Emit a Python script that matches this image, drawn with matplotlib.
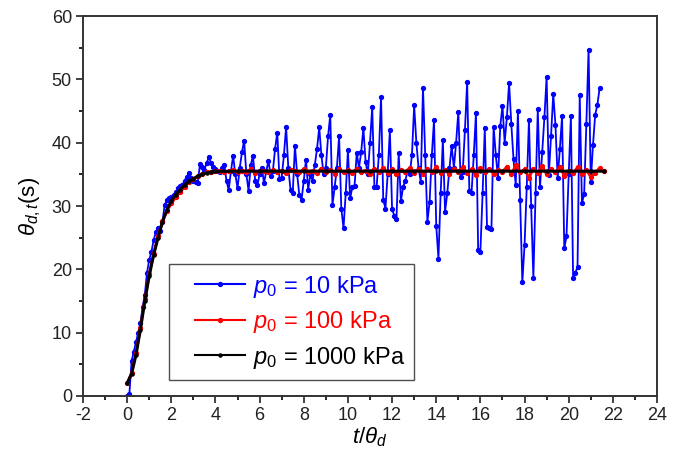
import numpy as np
import matplotlib
matplotlib.use("Agg")
import matplotlib.pyplot as plt
from matplotlib.legend_handler import HandlerLine2D
from matplotlib.ticker import MultipleLocator

plt.rcParams['font.family'] = ['Liberation Sans', 'DejaVu Sans']
plt.rcParams['mathtext.fontset'] = 'custom'
plt.rcParams['mathtext.rm'] = 'Liberation Sans'
plt.rcParams['mathtext.it'] = 'Liberation Sans:italic'
plt.rcParams['mathtext.bf'] = 'Liberation Sans:bold'
plt.rcParams['axes.unicode_minus'] = False

# ---- data ----
labels = [r"$p_0$ = 10 kPa", r"$p_0$ = 100 kPa", r"$p_0$ = 1000 kPa"]
colors = ["#0000ff", "#ff0000", "#000000"]

blue_step = 0.1
blue_v = [0.0, 0.3, 5.5, 7.0, 8.5, 10.0, 11.5, 14.0, 16.0, 19.5,
          21.5, 22.8, 24.6, 25.9, 26.5, 26.0, 27.5, 30.2, 30.9, 31.2,
          31.4, 31.7, 32.2, 32.8, 33.1, 33.3, 34.0, 34.6, 35.2, 34.5,
          33.9, 33.8, 33.7, 36.7, 36.2, 35.7, 36.8, 37.7, 36.8, 36.2,
          35.9, 35.6, 35.3, 36.0, 36.5, 34.0, 32.5, 35.5, 37.9, 35.0,
          32.8, 36.0, 38.5, 40.3, 35.0, 32.4, 36.5, 37.9, 34.0, 33.3,
          35.0, 36.0, 33.6, 35.5, 37.1, 34.8, 35.5, 39.0, 41.6, 34.2,
          34.5, 38.0, 42.5, 36.0, 32.6, 32.0, 39.5, 35.0, 31.7, 31.0,
          34.0, 37.3, 32.6, 35.0, 34.0, 36.5, 39.0, 42.4, 38.0, 35.0,
          36.0, 41.0, 44.4, 30.2, 33.0, 36.0, 41.0, 29.6, 26.5, 32.0,
          38.8, 31.2, 33.0, 33.2, 38.4, 36.0, 38.5, 42.3, 37.0, 35.0,
          40.0, 45.6, 33.0, 33.0, 38.0, 47.2, 31.0, 29.6, 35.0, 42.0,
          29.5, 28.5, 28.0, 38.3, 30.8, 33.0, 34.0, 35.5, 35.0, 38.0,
          45.9, 40.0, 36.0, 33.8, 48.7, 38.0, 27.5, 30.7, 38.0, 43.6,
          26.9, 21.7, 32.0, 40.4, 29.1, 32.0, 36.0, 39.5, 36.0, 40.0,
          44.9, 34.6, 35.3, 42.0, 49.6, 32.3, 32.1, 38.0, 44.7, 23.0,
          22.8, 32.0, 42.3, 26.7, 26.5, 26.3, 42.5, 38.0, 34.4, 42.6,
          45.8, 40.0, 44.0, 49.4, 43.0, 37.4, 33.3, 45.0, 31.0, 18.0,
          23.8, 33.0, 43.6, 30.0, 18.6, 32.0, 45.3, 33.0, 38.6, 44.0,
          50.4, 34.9, 41.0, 47.7, 42.8, 34.4, 39.0, 44.2, 23.3, 25.2,
          35.0, 44.2, 18.6, 19.5, 20.3, 47.5, 30.4, 31.9, 43.0, 54.7,
          33.8, 39.6, 44.4, 46.0, 48.6]

red_step = 0.2
red_v = [2.0, 3.6, 6.8, 10.8, 15.3, 19.2, 22.5, 25.3, 27.6, 29.2,
         30.4, 31.4, 32.2, 33.0, 33.8, 34.3, 34.7, 35.0, 35.3, 35.4,
         35.5, 35.6, 35.4, 35.5, 35.7, 35.3, 35.6, 35.4, 35.8, 35.2,
         35.6, 35.5, 35.3, 35.7, 35.4, 35.6, 35.2, 35.7, 35.5, 35.3,
         35.8, 35.4, 35.6, 35.2, 35.9, 35.4, 35.7, 35.1, 35.8, 35.3,
         35.7, 35.2, 35.9, 35.4, 35.6, 35.0, 35.9, 35.3, 36.0, 35.2,
         35.8, 35.1, 35.7, 35.4, 36.0, 35.2, 35.9, 35.0, 35.8, 35.3,
         36.1, 35.2, 35.7, 35.0, 35.9, 35.4, 36.1, 35.2, 35.8, 34.9,
         36.0, 35.3, 35.9, 35.1, 35.7, 35.4, 36.2, 35.0, 36.4, 35.3,
         35.8, 34.5, 35.9, 35.2, 36.3, 35.0, 35.8, 35.3, 36.2, 34.8,
         35.6, 35.2, 36.1, 35.0, 35.7, 34.6, 35.2, 36.0, 35.5]

black_t = [0.0, 0.2, 0.4, 0.6, 0.8, 1.0, 1.2, 1.4, 1.6, 1.8, 2.0,
           2.2, 2.4, 2.6, 2.8, 3.0, 3.2, 3.4, 3.6, 3.8, 4.0,
           5, 6, 7, 8, 9, 10, 11, 12, 13, 14, 15, 16, 17, 18, 19, 20, 21, 21.6]
black_v = [2.0, 3.5, 6.5, 10.5, 15.0, 19.0, 22.3, 25.0, 27.5, 29.4, 30.8,
           31.8, 32.6, 33.3, 33.9, 34.3, 34.7, 35.0, 35.2, 35.35, 35.45,
           35.5, 35.5, 35.5, 35.5, 35.5, 35.5, 35.5, 35.5, 35.5, 35.5,
           35.5, 35.5, 35.5, 35.5, 35.5, 35.5, 35.5, 35.5]

x_ticks = list(range(-2, 25, 2))
y_ticks = list(range(0, 61, 10))

blue_t = np.arange(len(blue_v)) * blue_step
red_t = np.arange(len(red_v)) * red_step

# ---- figure ----
fig = plt.figure(figsize=(6.76, 4.61), dpi=100)
ax = fig.add_axes([83/676, 1-396/461, 574/676, 380/461])

lb, = ax.plot(blue_t, blue_v, color=colors[0], lw=1.3, marker='o', ms=2.8,
              label=labels[0], zorder=2)
lr, = ax.plot(red_t, red_v, color=colors[1], lw=2.0, marker='o', ms=2.8,
              label=labels[1], zorder=3)
lk, = ax.plot(black_t, black_v, color=colors[2], lw=2.2, marker='o', ms=2.2,
              label=labels[2], zorder=4)

ax.set_xlim(-2, 24)
ax.set_ylim(0, 60)
ax.set_xticks(x_ticks)
ax.set_yticks(y_ticks)
ax.xaxis.set_minor_locator(MultipleLocator(1))
ax.yaxis.set_minor_locator(MultipleLocator(5))
ax.tick_params(which='major', direction='out', length=5, width=1.2,
               labelsize=13, colors='#222222', top=False, right=False, pad=3)
ax.tick_params(which='minor', direction='out', length=3, width=1.2,
               top=False, right=False)
for s in ax.spines.values():
    s.set_linewidth(1.4)
    s.set_color('#333333')

ax.set_xlabel(r"$t/\theta_d$", fontsize=16, labelpad=1)
ax.set_ylabel(r"$\theta_{d,t}$(s)", fontsize=16, labelpad=6)

hm = {h: HandlerLine2D(numpoints=1, xpad=0.68) for h in (lb, lr, lk)}
leg = ax.legend(handles=[lb, lr, lk], loc='lower left',
                bbox_to_anchor=(0.15, 0.042), borderaxespad=0,
                fontsize=17, frameon=True, fancybox=False, shadow=False,
                borderpad=0.4, labelspacing=0.4, handlelength=2.8,
                handletextpad=0.34, handler_map=hm)
leg.get_frame().set_edgecolor('#222222')
leg.get_frame().set_linewidth(1.0)
for txt, c in zip(leg.get_texts(), colors):
    txt.set_color(c)
for h in leg.legend_handles:
    h.set_linewidth(1.5)

fig.savefig("out.png", dpi=100)
